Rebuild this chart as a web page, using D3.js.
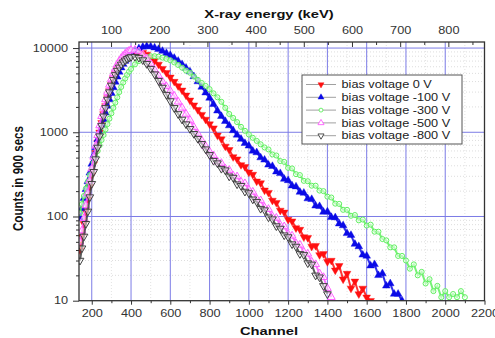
<!DOCTYPE html>
<html>
<head>
<meta charset="utf-8">
<script src="https://cdn.jsdelivr.net/npm/d3@7"></script>
<style>
  body { margin: 0; background: #fff; }
  svg { display: block; }
  text { font-family: "Liberation Sans", Arial, sans-serif; }
</style>
</head>
<body>
<svg id="chart" width="495" height="338"></svg>
<script>
// channel grid the counts were read on (10 steps on the rising edge, 20 after)
const channels = [140,150,160,170,180,190,200,210,220,230,240,250,260,270,280,290,300,310,320,330,340,350,360,370,380,390,400,
  420,440,460,480,500,520,540,560,580,600,620,640,660,680,700,720,740,760,780,800,820,840,860,880,900,920,940,960,980,1000,
  1020,1040,1060,1080,1100,1120,1140,1160,1180,1200,1220,1240,1260,1280,1300,1320,1340,1360,1380,1400,1420,1440,1460,1480,1500,
  1520,1540,1560,1580,1600,1620,1640,1660,1680,1700,1720,1740,1760,1780,1800,1820,1840,1860,1880,1900,1920,1940,1960,1980,2000,
  2020,2040,2060,2080,2100];

const counts0V = [40,58,82,115,160,225,310,420,570,760,1000,1300,1650,2050,2550,3100,3700,4350,5000,5650,6250,6800,7300,7750,8150,8450,8700,
  8950,9000,8800,8400,7800,7100,6400,5700,5100,4500,4000,3550,3150,2750,2400,2100,1850,1620,1420,1250,1120,920,830,680,620,510,480,410,390,335,
  315,262,250,205,192,155,146,118,112,92,88,73,70,57,56,44,45,35,36,29,30,23,26,18,21,14,17,12,14,11,10];

const counts100V = [95,125,165,210,260,330,420,530,660,820,1000,1200,1420,1700,2050,2450,2900,3400,3950,4550,5200,5850,6450,7000,7550,8050,8500,
  9300,9900,10300,10500,10400,10100,9700,9200,8700,8200,7600,7000,6400,5800,5250,4600,4000,3450,2950,2550,2150,1800,1550,1350,1200,1050,930,830,740,690,
  600,575,500,470,410,395,340,325,278,268,232,226,195,190,163,160,134,132,113,114,98,97,82,78,63,60,47,44,35,34,26,27,20,21,15,16,12,12,10];

const counts300V = [110,140,175,215,260,310,370,435,510,600,700,810,930,1080,1250,1450,1680,1950,2250,2600,3000,3450,3900,4350,4800,5250,5650,
  6400,7000,7500,7800,8000,8000,7900,7700,7450,7150,6750,6300,5850,5400,5100,4600,4200,3850,3550,3250,2900,2600,2300,1950,1650,1480,1320,1160,1040,940,
  860,790,720,660,625,545,530,455,445,378,372,318,310,265,262,232,232,203,200,172,168,142,141,120,120,102,104,90,92,78,80,66,66,54,52,43,43,34,34,30,
  24,27,20,22,16,18,13,15,11,13,11,12,11,13,11];

const counts500V = [50,68,95,135,190,265,370,510,690,920,1200,1550,1950,2450,3000,3650,4300,5000,5700,6400,7000,7600,8100,8550,8950,9250,9450,
  9500,9100,8400,7500,6500,5500,4700,4000,3500,3100,2700,2300,1950,1650,1400,1150,960,800,680,590,530,450,430,370,355,305,298,258,247,208,
  196,162,155,128,122,100,96,79,76,62,59,48,46,38,36,29,27,21,19,14,11];

const counts800V = [30,42,58,82,115,170,245,340,480,660,900,1200,1550,1950,2450,3000,3600,4200,4800,5400,5900,6400,6800,7150,7450,7700,7850,
  7900,7700,7200,6500,5700,4900,4100,3400,2800,2350,1950,1650,1420,1250,1100,960,840,730,630,540,460,430,370,355,300,290,242,232,198,190,
  160,150,124,119,98,93,77,72,60,57,47,44,36,35,28,27,20,19,15,12];

const seriesNames = ["bias voltage 0 V", "bias voltage -100 V", "bias voltage -300 V", "bias voltage -500 V", "bias voltage -800 V"];
const seriesCounts = [counts0V, counts100V, counts300V, counts500V, counts800V];

const bottomTicks = [200,400,600,800,1000,1200,1400,1600,1800,2000,2200];
const bottomMinorTicks = [300,500,700,900,1100,1300,1500,1700,1900,2100];
const topTicks = [100,200,300,400,500,600,700,800];
const topMinorTicks = [50,150,250,350,450,550,650,750,850];
const leftTicks = [10,100,1000,10000];
const leftMinorTicks = [20,30,40,50,60,70,80,90,200,300,400,500,600,700,800,900,2000,3000,4000,5000,6000,7000,8000,9000];

// style per series: colour, symbol, filled?, rotated (down triangle)
const styles = [
  {color: "#ff1010", sym: d3.symbolTriangle, fill: true,  rot: 180},
  {color: "#0a0ae6", sym: d3.symbolTriangle, fill: true,  rot: 0},
  {color: "#5ef05e", sym: d3.symbolCircle,   fill: false, rot: 0},
  {color: "#ff5cff", sym: d3.symbolTriangle, fill: false, rot: 0},
  {color: "#404040", sym: d3.symbolTriangle, fill: false, rot: 180}
];

const SX = 1.27; // the text in the picture is stretched sideways
const m = {left: 79, right: 484.5, top: 42, bottom: 300.7};

const x = d3.scaleLinear().domain([135, 2200]).range([m.left, m.right]);
const xTop = d3.scaleLinear().domain([33.5, 875]).range([m.left, m.right]);
const y = d3.scaleLog().domain([10, 11800]).range([m.bottom, m.top]);

const svg = d3.select("#chart");

svg.append("defs").append("clipPath").attr("id", "plotclip")
  .append("rect").attr("x", m.left).attr("y", m.top)
  .attr("width", m.right - m.left).attr("height", m.bottom - m.top);

// minor grid (dotted)
const grid = svg.append("g");
grid.selectAll("line.hmin").data(leftMinorTicks).join("line")
  .attr("x1", m.left).attr("x2", m.right)
  .attr("y1", d => y(d)).attr("y2", d => y(d))
  .attr("stroke", "#d4d4d4").attr("stroke-width", 0.8).attr("stroke-dasharray", "1,2");
grid.selectAll("line.vmin").data(bottomMinorTicks).join("line")
  .attr("y1", m.top).attr("y2", m.bottom)
  .attr("x1", d => x(d)).attr("x2", d => x(d))
  .attr("stroke", "#dcdcdc").attr("stroke-width", 0.8).attr("stroke-dasharray", "1,2");

// major grid
grid.selectAll("line.hmaj").data(leftTicks.slice(1)).join("line")
  .attr("x1", m.left).attr("x2", m.right)
  .attr("y1", d => y(d)).attr("y2", d => y(d))
  .attr("stroke", "#7c7ce6").attr("stroke-width", 1);
grid.selectAll("line.vmaj").data(bottomTicks.slice(0, -1)).join("line")
  .attr("y1", m.top).attr("y2", m.bottom)
  .attr("x1", d => x(d)).attr("x2", d => x(d))
  .attr("stroke", "#7c7ce6").attr("stroke-width", 1);

// data
const plot = svg.append("g").attr("clip-path", "url(#plotclip)");
const line = d3.line().x(d => x(d[0])).y(d => y(d[1]));

seriesCounts.forEach((vals, si) => {
  const st = styles[si];
  const pts = vals.map((v, i) => [channels[i], v]);
  plot.append("path").datum(pts)
    .attr("d", line)
    .attr("fill", "none")
    .attr("stroke", st.color)
    .attr("stroke-width", 2)
    .attr("stroke-opacity", 0.85);
  const sym = d3.symbol().type(st.sym).size(st.sym === d3.symbolCircle ? 20 : 26);
  plot.append("g").selectAll("path").data(pts).join("path")
    .attr("d", sym)
    .attr("transform", d => `translate(${x(d[0])},${y(d[1])}) rotate(${st.rot})`)
    .attr("fill", st.fill ? st.color : "#fff")
    .attr("fill-opacity", st.fill ? 1 : 0.5)
    .attr("stroke", st.color)
    .attr("stroke-width", st.fill ? 0.4 : 1);
});

// axes
function styleAxis(g) {
  g.select(".domain").remove();
  g.selectAll("line").attr("stroke", "#333").attr("stroke-width", 1);
  g.selectAll("text").attr("fill", "#333").attr("font-size", 10);
}

const axB = svg.append("g").attr("transform", `translate(0,${m.bottom})`)
  .call(d3.axisBottom(x).tickValues(bottomTicks).tickSize(4).tickFormat(d3.format("d")));
styleAxis(axB);
axB.selectAll("text").attr("y", 9.7).attr("dy", "0.71em").attr("transform", `scale(${SX},1)`);
const axBm = svg.append("g").attr("transform", `translate(0,${m.bottom})`)
  .call(d3.axisBottom(x).tickValues(bottomMinorTicks).tickSize(2.5).tickFormat(""));
styleAxis(axBm);

const axT = svg.append("g").attr("transform", `translate(0,${m.top})`)
  .call(d3.axisTop(xTop).tickValues(topTicks).tickSizeInner(-5).tickSizeOuter(0).tickPadding(8).tickFormat(d3.format("d")));
styleAxis(axT);
axT.selectAll("text").attr("transform", `scale(${SX},1)`);
const axTm = svg.append("g").attr("transform", `translate(0,${m.top})`)
  .call(d3.axisTop(xTop).tickValues(topMinorTicks).tickSizeInner(-3).tickSizeOuter(0).tickFormat(""));
styleAxis(axTm);

const axL = svg.append("g").attr("transform", `translate(${m.left},0)`)
  .call(d3.axisLeft(y).tickValues(leftTicks).tickSize(6).tickFormat(d3.format("d")));
styleAxis(axL);
axL.selectAll("text").attr("x", -11 / SX).attr("transform", `scale(${SX},1)`);
const axLm = svg.append("g").attr("transform", `translate(${m.left},0)`)
  .call(d3.axisLeft(y).tickValues(leftMinorTicks).tickSize(3).tickFormat(""));
styleAxis(axLm);

// frame
svg.append("rect")
  .attr("x", m.left).attr("y", m.top)
  .attr("width", m.right - m.left).attr("height", m.bottom - m.top)
  .attr("fill", "none").attr("stroke", "#333").attr("stroke-width", 1.3);

// titles
function stretched(px, py, str, opts) {
  const g = svg.append("g")
    .attr("transform", `translate(${px},${py}) scale(${SX},1)` + (opts.rotate ? ` rotate(${opts.rotate})` : ""));
  g.append("text")
    .attr("text-anchor", opts.anchor || "middle")
    .attr("font-size", opts.size)
    .attr("font-weight", opts.weight || "normal")
    .attr("fill", opts.color || "#111")
    .text(str);
  return g;
}
stretched(269, 17.5, "X-ray energy (keV)", {size: 11.6, weight: "bold"});
stretched(269, 335, "Channel", {size: 11.6, weight: "bold"});
stretched(23, 178.5, "Counts in 900 secs", {size: 11.6, weight: "bold", rotate: -90});

// legend
const lg = svg.append("g");
lg.append("rect").attr("x", 302).attr("y", 75).attr("width", 160).attr("height", 69)
  .attr("fill", "#fff").attr("stroke", "#555").attr("stroke-width", 1);
seriesNames.forEach((name, i) => {
  const st = styles[i];
  const cy = 84.5 + i * 12.8;
  lg.append("line").attr("x1", 306).attr("x2", 336).attr("y1", cy).attr("y2", cy)
    .attr("stroke", "#a0a0a0").attr("stroke-width", 1);
  lg.append("path")
    .attr("d", d3.symbol().type(st.sym).size(st.sym === d3.symbolCircle ? 12 : 16)())
    .attr("transform", `translate(321,${cy}) rotate(${st.rot})`)
    .attr("fill", st.fill ? st.color : "#fff")
    .attr("stroke", st.color).attr("stroke-width", st.fill ? 0.4 : 0.9);
  const tg = lg.append("g").attr("transform", `translate(341.5,${cy + 3.6}) scale(${SX},1)`);
  tg.append("text").attr("font-size", 10).attr("fill", "#222").text(name);
});
</script>
</body>
</html>
